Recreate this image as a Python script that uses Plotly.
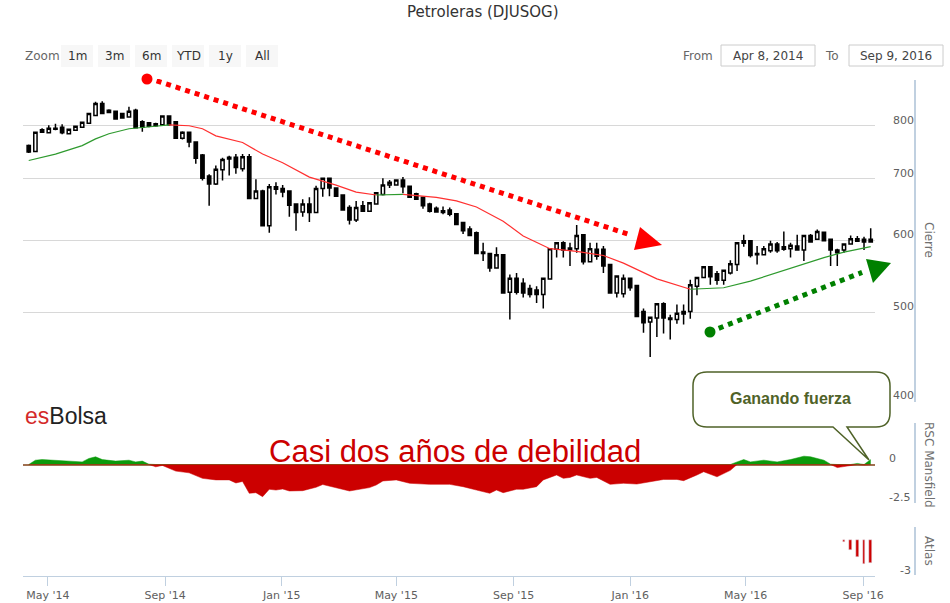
import pandas as pd
import plotly.graph_objects as go

# weekly closes, Fridays
weeks = pd.date_range("2014-04-11", periods=127, freq="7D")

opens = [761, 750, 787, 786, 793, 797, 784, 791, 797, 805, 821, 846, 832, 830, 825, 818, 832, 808, 806, 804,
         802, 820, 808, 775, 787, 768, 743, 705, 691, 716, 736, 739, 718, 740, 666, 679, 622, 686, 683, 679,
         657, 644, 657, 643, 683, 701, 684, 672, 651, 631, 654, 645, 657, 673, 689, 689, 698, 687, 674, 668,
         657, 650, 646, 647, 641, 627, 617, 611, 582, 580, 559, 578, 526, 545, 538, 531, 529, 523, 544, 586,
         596, 585, 587, 608, 568, 586, 586, 564, 525, 524, 545, 535, 501, 488, 493, 511, 493, 491, 501, 501,
         534, 546, 561, 551, 542, 552, 564, 595, 599, 580, 578, 584, 594, 590, 587, 591, 585, 607, 601, 612,
         601, 585, 585, 594, 598, 601, 601]
highs = [763, 788, 795, 801, 804, 803, 794, 800, 808, 826, 850, 851, 834, 831, 826, 839, 835, 811, 807, 806,
         821, 821, 809, 789, 788, 769, 745, 708, 724, 738, 742, 745, 745, 745, 699, 681, 691, 694, 689, 680,
         658, 665, 668, 688, 702, 702, 685, 673, 655, 662, 662, 660, 677, 701, 698, 699, 703, 688, 676, 669,
         659, 653, 653, 651, 642, 628, 621, 613, 596, 581, 589, 579, 550, 552, 545, 536, 534, 546, 588, 597,
         598, 596, 623, 609, 596, 596, 591, 565, 549, 550, 546, 536, 505, 495, 512, 513, 497, 510, 510, 543,
         547, 562, 562, 555, 557, 570, 597, 608, 600, 591, 591, 599, 597, 613, 596, 608, 608, 609, 616, 613,
         602, 587, 595, 607, 606, 605, 618]
lows = [747, 749, 786, 786, 791, 783, 783, 790, 796, 804, 820, 824, 826, 813, 815, 817, 795, 788, 797, 798,
        801, 800, 774, 773, 758, 727, 697, 654, 689, 697, 706, 709, 713, 665, 665, 621, 611, 673, 668, 636,
        614, 636, 628, 642, 669, 670, 669, 646, 624, 628, 644, 644, 656, 671, 684, 688, 675, 667, 664, 649,
        643, 643, 640, 637, 623, 609, 606, 579, 569, 554, 558, 524, 491, 523, 519, 519, 512, 505, 543, 574,
        574, 562, 581, 564, 567, 571, 552, 524, 519, 519, 528, 494, 475, 447, 470, 474, 467, 486, 485, 492,
        522, 545, 536, 536, 536, 550, 555, 590, 574, 564, 577, 581, 581, 584, 574, 584, 569, 596, 600, 598,
        562, 562, 581, 593, 597, 585, 596]
closes = [749, 787, 792, 795, 795, 786, 793, 799, 807, 825, 846, 825, 827, 814, 816, 830, 796, 797, 799, 800,
          820, 802, 775, 787, 768, 737, 701, 691, 717, 735, 739, 720, 740, 666, 679, 622, 686, 682, 677, 655,
          643, 657, 643, 683, 701, 684, 670, 647, 631, 651, 645, 659, 676, 689, 694, 698, 686, 668, 665, 654,
          645, 644, 643, 640, 624, 614, 607, 580, 580, 559, 578, 525, 545, 526, 525, 523, 523, 545, 587, 596,
          585, 588, 607, 568, 587, 576, 562, 525, 548, 545, 532, 495, 487, 494, 511, 493, 491, 499, 498, 536,
          546, 561, 547, 542, 556, 565, 596, 599, 577, 578, 587, 594, 584, 586, 592, 585, 607, 597, 613, 599,
          585, 581, 594, 602, 602, 597, 597]

# 30 week average (week index, value)
ma_idx = [0, 4, 8, 10, 12, 15, 19, 21, 24, 26, 28, 32, 35, 38, 42, 46, 49, 52, 56, 61, 64, 67, 71, 74, 78,
          82, 86, 89, 94, 99, 104, 108, 115, 119, 122, 126]
ma_val = [733, 745, 761, 774, 784, 794, 799, 802, 800, 794, 780, 767, 745, 729, 703, 689, 677, 672, 673, 668,
          662, 652, 629, 606, 587, 583, 577, 566, 544, 530, 532, 541, 562, 574, 582, 590]
# (start, end, colour) positions in the ma lists
ma_segments = [(0, 7, "#2e9a2e"), (7, 17, "#ff3030"), (17, 18, "#2e9a2e"), (18, 29, "#ff3030"), (29, 35, "#2e9a2e")]

rsc_idx = [0, 1, 2, 4, 6, 8, 9, 10, 11, 13, 15, 16, 17, 18, 19, 20, 22, 24, 26, 28, 30, 31, 32, 33, 34, 35,
           36, 37, 38, 39, 41, 43, 44, 46, 48, 51, 52, 53, 55, 57, 60, 63, 65, 67, 69, 70, 71, 73, 74, 76, 77,
           79, 80, 81, 82, 84, 85, 87, 89, 91, 93, 95, 97, 98, 100, 101, 103, 105, 106, 107, 108, 110, 112,
           114, 116, 117, 119, 120, 121, 123, 124, 125, 126]
rsc_val = [0.0, 0.28, 0.32, 0.28, 0.22, 0.17, 0.39, 0.5, 0.32, 0.22, 0.28, 0.17, 0.22, 0.02, -0.15, -0.06,
           -0.43, -0.54, -0.9, -1.0, -1.0, -1.2, -1.1, -1.87, -1.83, -2.09, -1.61, -1.66, -1.59, -1.72, -1.7,
           -1.48, -1.3, -1.5, -1.72, -1.5, -1.33, -1.07, -1.0, -1.22, -1.29, -1.29, -1.44, -1.66, -1.87, -1.66,
           -1.83, -1.61, -1.61, -1.44, -1.0, -0.68, -0.9, -0.84, -0.68, -0.9, -0.84, -1.29, -1.22, -1.27,
           -1.12, -0.97, -0.97, -1.05, -0.68, -0.47, -0.8, -0.38, 0.17, 0.32, 0.17, 0.28, 0.17, 0.32, 0.54,
           0.5, 0.28, 0.02, -0.2, -0.04, 0.07, -0.04, 0.32]

atlas_idx = [122, 123, 124, 125, 126]
atlas_val = [-0.15, -0.85, -1.4, -2.0, -1.9]

zoom_buttons = ["1m", "3m", "6m", "YTD", "1y", "All"]

FONT = "DejaVu Sans"
GRID = "#D8D8D8"
AXIS = "#C0D0E0"


# pixel -> paper helpers for the decorations
def px(x):
    return (x - 23) / 852


def py(y):
    return (576 - y) / 497


def label(text, x, y, size=12, color="#333333", family=FONT, xanchor="center", **kw):
    return dict(text=text, xref="paper", yref="paper", x=px(x), y=py(y), xanchor=xanchor,
                yanchor="middle", showarrow=False, font=dict(family=family, size=size, color=color), **kw)


def poly(points, color):
    path = "M" + "L".join("%.5f,%.5f" % (px(a), py(b)) for a, b in points) + "Z"
    return dict(type="path", xref="paper", yref="paper", path=path, fillcolor=color, line=dict(width=0))


def dot(x, y, r, color):
    return dict(type="circle", xref="paper", yref="paper", x0=px(x - r), x1=px(x + r),
                y0=py(y + r), y1=py(y - r), fillcolor=color, line=dict(width=0))


fig = go.Figure()

fig.add_trace(go.Candlestick(
    x=weeks, open=opens, high=highs, low=lows, close=closes,
    increasing=dict(line=dict(color="black", width=1.5), fillcolor="white"),
    decreasing=dict(line=dict(color="black", width=1.5), fillcolor="black"),
    whiskerwidth=0, showlegend=False, yaxis="y"))

for a, b, col in ma_segments:
    fig.add_trace(go.Scatter(
        x=[weeks[i] for i in ma_idx[a:b + 1]], y=ma_val[a:b + 1], mode="lines",
        line=dict(color=col, width=1.2), showlegend=False, hoverinfo="skip", yaxis="y"))

# trend arrows (dotted shafts)
fig.add_trace(go.Scatter(x=["2014-08-13", "2016-01-03"], y=[903, 607], mode="lines",
                         line=dict(color="#ff0000", width=5, dash="5px,5px"),
                         showlegend=False, hoverinfo="skip", cliponaxis=False, yaxis="y"))
fig.add_trace(go.Scatter(x=["2016-03-24", "2016-08-31"], y=[476, 553], mode="lines",
                         line=dict(color="#008000", width=5, dash="5px,5px"),
                         showlegend=False, hoverinfo="skip", cliponaxis=False, yaxis="y"))

# RSC Mansfield, green above zero, red below
rsc_x = [weeks[i] for i in rsc_idx]
fig.add_trace(go.Scatter(x=rsc_x, y=[max(v, 0) for v in rsc_val], mode="lines", fill="tozeroy",
                         line=dict(color="#0b9a0b", width=0.5), fillcolor="#0b9a0b",
                         showlegend=False, yaxis="y2"))
fig.add_trace(go.Scatter(x=rsc_x, y=[min(v, 0) for v in rsc_val], mode="lines", fill="tozeroy",
                         line=dict(color="#cc0000", width=0.5), fillcolor="#cc0000",
                         showlegend=False, yaxis="y2"))

fig.add_trace(go.Bar(x=[weeks[i] for i in atlas_idx], y=atlas_val, marker_color="#cc0000",
                     width=3 * 86400000, showlegend=False, yaxis="y3"))

tickfont = dict(family=FONT, size=11, color="#606060")
fig.update_layout(
    width=950, height=603,
    margin=dict(l=23, r=75, t=79, b=27),
    paper_bgcolor="white", plot_bgcolor="white",
    font=dict(family=FONT, color="#333333"),
    xaxis=dict(type="date", range=["2014-04-05", "2016-09-13 12:00"], anchor="y3", automargin=False,
               rangeslider=dict(visible=False), showgrid=False, showline=True, linecolor=AXIS,
               ticks="outside", ticklen=9, tickcolor=AXIS, tick0="2014-05-01", dtick="M4",
               tickformat="%b '%y", tickfont=tickfont, zeroline=False),
    yaxis=dict(domain=[py(401), 1], type="log", range=[2.60206, 2.95424], side="right", anchor="x",
               tickvals=[400, 500, 600, 700, 800, 900], ticktext=["400", "500", "600", "700", "800", ""],
               gridcolor=GRID, tickfont=tickfont, ticklabelstandoff=17, ticklabelshift=-6,
               showline=False, zeroline=False, automargin=False),
    yaxis2=dict(domain=[py(503), py(426)], range=[-2.5, 2.5], side="right", anchor="x",
                tickvals=[-2.5, 0, 2.5], ticktext=["-2.5", "0", ""], gridcolor=GRID,
                zeroline=True, zerolinecolor="#a07050", zerolinewidth=1.5, automargin=False,
                tickfont=tickfont, ticklabelstandoff=13, ticklabelshift=-6, showline=False),
    yaxis3=dict(domain=[0, py(526)], range=[-3, 1.17], side="right", anchor="x",
                tickvals=[-3, 1.17], ticktext=["-3", ""], gridcolor=GRID, zeroline=False, automargin=False,
                tickfont=tickfont, ticklabelstandoff=24, ticklabelshift=-6, showline=False),
    bargap=0,
)

shapes = []
annotations = []

# arrow ends: start dots and triangle heads
shapes.append(dot(147, 79, 5.5, "#ff0000"))
shapes.append(poly([(640, 227), (662, 245), (634, 250)], "#ff0000"))
shapes.append(dot(710, 332, 5.5, "#008000"))
shapes.append(poly([(866, 259), (891, 263), (873, 283)], "#008000"))

# right-hand axis lines
for y0, y1 in [(80, 402), (423, 503), (527, 575)]:
    shapes.append(dict(type="line", xref="paper", yref="paper", x0=px(915), x1=px(915),
                       y0=py(y0), y1=py(y1), line=dict(color=AXIS, width=2)))
for txt, yc in [("Cierre", 240), ("RSC Mansfield", 465), ("Atlas", 551)]:
    annotations.append(label(txt, 929, yc, color="#707070", textangle=90))

# title
annotations.append(label("Petroleras (DJUSOG)", 483, 12, size=15))

# range selector look-alike
annotations.append(label("Zoom", 23, 56, color="#666666", xanchor="left"))
for k, lab in enumerate(zoom_buttons):
    x0 = 61 + 37 * k
    shapes.append(dict(type="rect", xref="paper", yref="paper", x0=px(x0), x1=px(x0 + 32),
                       y0=py(45), y1=py(67), fillcolor="#f7f7f7", line=dict(width=0), layer="below"))
    annotations.append(label(lab, x0 + 16, 56))
annotations.append(label("From", 715, 56, color="#666666", xanchor="right"))
annotations.append(label("To", 841, 56, color="#666666", xanchor="right"))
for x0, x1, lab in [(721, 815, "Apr 8, 2014"), (849, 943, "Sep 9, 2016")]:
    shapes.append(dict(type="rect", xref="paper", yref="paper", x0=px(x0), x1=px(x1),
                       y0=py(45), y1=py(66), fillcolor="white", line=dict(color="#cccccc", width=1)))
    annotations.append(label(lab, (x0 + x1) / 2, 56, color="#444444"))

# logo and captions
annotations.append(label("<span style='color:#d42a2a'>es</span>Bolsa", 23, 416, size=23, color="#222222",
                         family="Liberation Sans", xanchor="left"))
annotations.append(label("Casi dos años de debilidad", 455, 451, size=31, color="#cc0000",
                         family="Liberation Sans"))

# callout bubble
pts = [("M", 707, 372), ("L", 876, 372), ("Q", 890, 372, 890, 386), ("L", 890, 413),
       ("Q", 890, 427, 876, 427), ("L", 847, 427), ("L", 869, 460), ("L", 833, 427), ("L", 707, 427),
       ("Q", 693, 427, 693, 413), ("L", 693, 386), ("Q", 693, 372, 707, 372)]
path = ""
for p in pts:
    coords = p[1:]
    xy = ["%.5f,%.5f" % (px(coords[j]), py(coords[j + 1])) for j in range(0, len(coords), 2)]
    path += p[0] + " ".join(xy) + " "
shapes.append(dict(type="path", xref="paper", yref="paper", path=path + "Z", fillcolor="white",
                   line=dict(color="#4f6228", width=1.5)))
annotations.append(label("<b>Ganando fuerza</b>", 790, 398, size=16, color="#4f6228",
                         family="Liberation Sans"))

fig.update_layout(shapes=shapes, annotations=annotations)

fig.write_html("out.html", config=dict(displayModeBar=False),
               post_script="document.body.style.margin='0';")
